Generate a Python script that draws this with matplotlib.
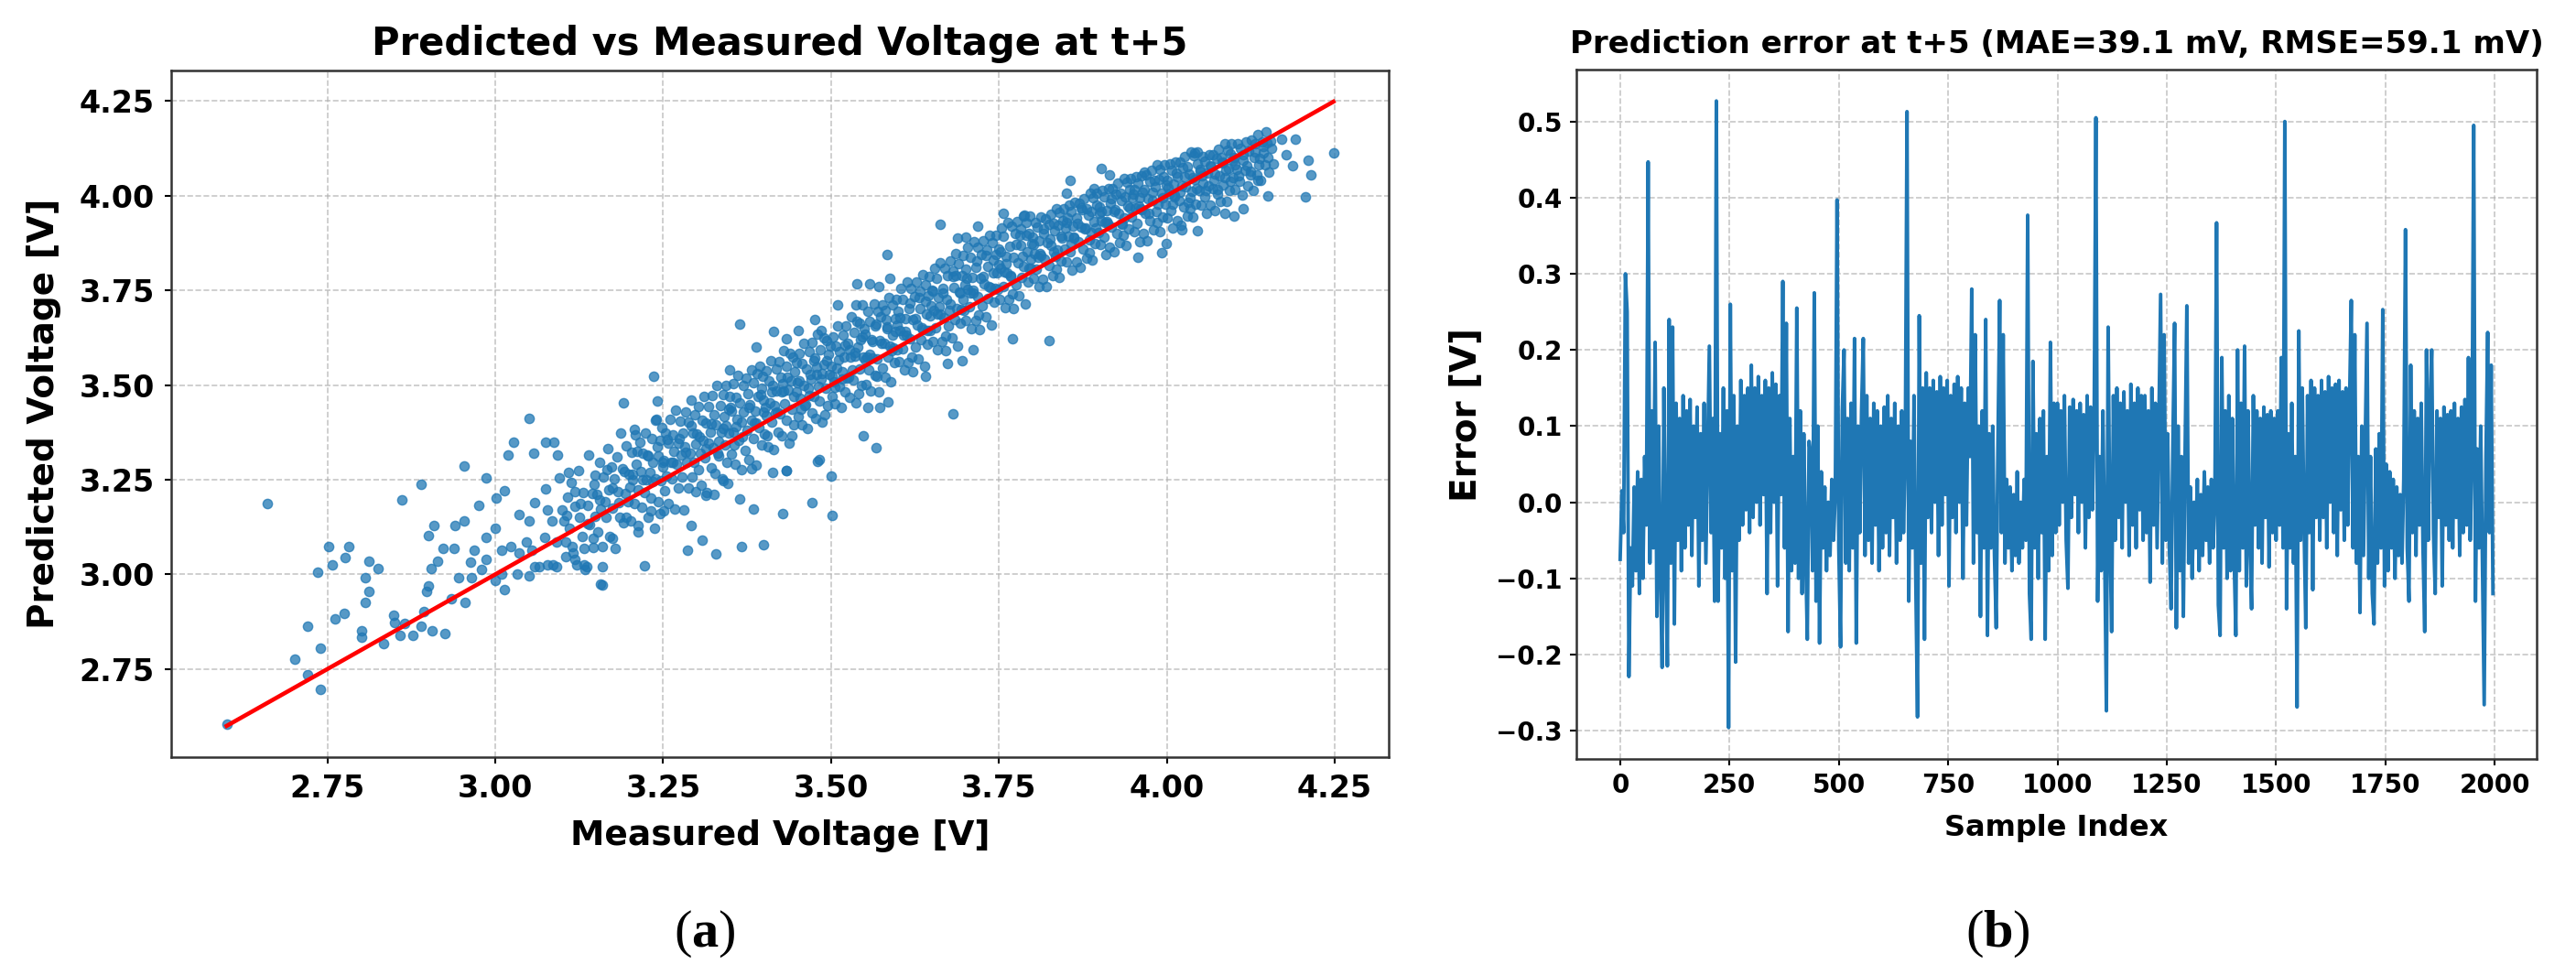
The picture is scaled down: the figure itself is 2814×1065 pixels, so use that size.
import numpy as np
import matplotlib
matplotlib.use('Agg')
import matplotlib.pyplot as plt
from matplotlib.ticker import MultipleLocator

# scatter data: (measured voltage in mV, predicted - measured in mV)
# sparse low-voltage tail, read point by point
tail_pts = [
    (2600, 5), (2661, 526), (2701, 75), (2720, 142), (2721, 13), (2739, 67), (2739, -42),
    (2736, 270), (2752, 322), (2758, 268), (2777, 267), (2782, 292), (2761, 121), (2775, 122),
    (2806, 186), (2812, 223), (2825, 190), (2812, 142), (2806, 121), (2801, 50), (2801, 34),
    (2833, -15), (2849, 42), (2850, 22), (2858, -19), (2865, 6), (2877, -38), (2890, -27),
    (2893, 10), (2906, -55), (2925, -80), (2898, 56), (2900, 69), (2861, 335), (2889, 350),
    (2900, 202), (2908, 222), (2905, 110), (2914, 122), (2922, 147), (2938, 131), (2940, 190),
    (2954, 187), (2954, 333), (2946, 46), (2934, 2), (2955, -28), (2963, 69), (2968, 96),
    (2965, 27), (2980, 32), (2986, 53), (2986, 112), (2976, 207), (2986, 268), (3000, 121),
    (3002, 200), (3014, 206), (3019, 297), (3027, 321), (3050, 361), (3057, 264), (3075, 273),
    (3087, 261), (3093, 223), (3014, -54), (3000, -16), (3009, -9), (3032, -30), (3050, -54),
    (3066, -46), (3091, -71), (3136, -116), (3159, -186), (3159, -139), (3009, 55), (3023, 50),
    (3036, 20), (3046, 39), (3055, 9), (3036, 121), (3050, 91), (3059, 131), (3075, 151),
    (3078, 91), (3085, 56), (3096, 158), (3100, 69), (3109, 161), (3073, 24), (3091, -6),
    (3114, -41), (3132, -63), (3105, -57),
]

# main band
band_pts = [
    (3102, 40), (3105, -20), (3108, 95), (3111, 10), (3113, 130), (3116, -60), (3119, 60),
    (3121, -95), (3124, 150), (3126, 25), (3129, -30), (3131, 85), (3134, -120), (3137, 45),
    (3139, 175), (3141, -10), (3144, 70), (3146, -50), (3148, 115), (3149, 5),
    (3151, 60), (3153, -40), (3155, 140), (3157, 15), (3159, -85), (3161, 95), (3163, 30),
    (3165, -15), (3167, 165), (3169, 55), (3171, -70), (3173, 110), (3175, 0), (3177, 75),
    (3179, -110), (3181, 130), (3183, 35), (3185, -35), (3187, 185), (3189, 90), (3191, -55),
    (3193, 20), (3195, 145), (3197, -5), (3199, 65),
    (3200, 30), (3202, -60), (3203, 120), (3205, 45), (3207, -20), (3208, 160), (3210, 80),
    (3212, -100), (3213, 10), (3215, 135), (3217, 55), (3218, -40), (3220, 100), (3222, -5),
    (3223, 150), (3225, 25), (3227, -75), (3228, 85), (3230, 40), (3232, -30), (3233, 125),
    (3235, 60), (3237, -115), (3238, 15), (3240, 170), (3242, 70), (3243, -50), (3245, 110),
    (3247, 0), (3248, 140), (3249, 35), (3246, -85),
    (3251, 50), (3252, -30), (3254, 120), (3255, 5), (3257, 90), (3258, -70), (3260, 150),
    (3261, 35), (3263, -10), (3264, 105), (3266, 60), (3267, -95), (3269, 165), (3270, 20),
    (3272, 75), (3273, -45), (3275, 130), (3276, 40), (3278, -20), (3279, 95), (3281, -110),
    (3282, 55), (3284, 145), (3285, 10), (3287, -60), (3288, 115), (3290, 30), (3291, 170),
    (3293, -35), (3294, 80), (3296, 0), (3297, 125), (3299, 45), (3298, -80),
    (3300, 70), (3302, -25), (3303, 140), (3305, 15), (3306, -70), (3308, 100), (3309, 45),
    (3311, 160), (3312, -5), (3314, 85), (3315, -100), (3317, 30), (3318, 125), (3320, 55),
    (3321, -40), (3323, 150), (3324, 10), (3326, 95), (3327, -60), (3329, 65), (3330, 170),
    (3332, 20), (3333, -20), (3335, 110), (3336, 40), (3338, -85), (3339, 135), (3341, 75),
    (3342, 0), (3344, 155), (3345, -50), (3347, 90), (3348, 25), (3349, 120), (3346, -105),
    (3343, 50),
    (3351, 80), (3352, -35), (3354, 150), (3355, 20), (3357, -65), (3358, 110), (3360, 50),
    (3361, 165), (3363, -10), (3364, 90), (3366, -90), (3367, 35), (3369, 130), (3370, 60),
    (3372, -45), (3373, 145), (3375, 5), (3376, 100), (3378, -75), (3379, 70), (3381, 160),
    (3382, 25), (3384, -25), (3385, 120), (3387, 45), (3388, -100), (3390, 140), (3391, 80),
    (3393, -5), (3394, 155), (3396, -55), (3397, 95), (3399, 30), (3398, 125), (3356, -15),
    (3389, 10),
    (3400, 60), (3401, -30), (3403, 135), (3404, 15), (3406, -70), (3407, 105), (3409, 45),
    (3410, 155), (3412, -10), (3413, 85), (3415, -85), (3416, 30), (3418, 125), (3419, 65),
    (3421, -45), (3422, 140), (3424, 0), (3425, 95), (3427, -60), (3428, 75), (3430, 160),
    (3431, 20), (3433, -25), (3434, 115), (3436, 50), (3437, -90), (3439, 145), (3440, 70),
    (3442, -5), (3443, 130), (3445, -50), (3446, 90), (3448, 35), (3449, 110), (3405, -40),
    (3417, 10), (3429, 55), (3441, -75),
    (3450, 55), (3451, -35), (3453, 130), (3454, 10), (3456, -60), (3457, 100), (3459, 40),
    (3460, 150), (3462, -15), (3463, 80), (3465, -80), (3466, 25), (3468, 120), (3469, 60),
    (3471, -45), (3472, 140), (3474, -5), (3475, 90), (3477, -65), (3478, 70), (3480, 155),
    (3481, 15), (3483, -25), (3484, 110), (3486, 45), (3487, -85), (3489, 135), (3490, 65),
    (3492, 0), (3493, 125), (3495, -50), (3496, 85), (3498, 30), (3499, 105), (3455, -20),
    (3467, 5), (3479, 50), (3491, -70),
    (3500, 50), (3501, -30), (3503, 125), (3504, 5), (3506, -55), (3507, 95), (3509, 35),
    (3510, 145), (3512, -15), (3513, 75), (3515, -75), (3516, 20), (3518, 115), (3519, 55),
    (3521, -40), (3522, 135), (3524, -5), (3525, 85), (3527, -60), (3528, 65), (3530, 150),
    (3531, 10), (3533, -20), (3534, 105), (3536, 40), (3537, -85), (3539, 130), (3540, 60),
    (3542, 0), (3543, 120), (3545, -45), (3546, 80), (3548, 25), (3549, 100), (3505, -10),
    (3517, 0), (3529, 45), (3541, -65),
    (3550, 85), (3552, -50), (3553, 20), (3555, 140), (3556, -15), (3558, 110), (3559, -75),
    (3561, 55), (3562, 10), (3564, 150), (3565, -40), (3567, 95), (3568, 0), (3570, 125),
    (3571, -90), (3573, 45), (3574, 105), (3576, -30), (3577, 135), (3579, 30), (3580, -60),
    (3582, 90), (3583, 65), (3585, -10), (3586, 145), (3588, 15), (3589, -80), (3591, 120),
    (3592, 40), (3594, -35), (3595, 80), (3597, 130), (3598, -5), (3599, 60), (3557, 25),
    (3569, -45), (3581, 115), (3593, 5),
    (3600, 95), (3601, -40), (3603, 40), (3604, 150), (3606, -10), (3607, 120), (3609, -70),
    (3610, 65), (3612, 20), (3613, 160), (3615, -55), (3616, 85), (3618, 5), (3619, 135),
    (3621, -85), (3622, 50), (3624, 110), (3625, -25), (3627, 145), (3628, 30), (3630, -60),
    (3631, 100), (3633, 70), (3634, -15), (3636, 155), (3637, 10), (3639, -90), (3640, 125),
    (3642, 45), (3643, -35), (3645, 90), (3646, 140), (3648, -5), (3649, 60), (3608, 25),
    (3620, -45), (3632, 115), (3644, 0),
    (3650, 100), (3651, -35), (3653, 45), (3654, 155), (3656, -5), (3657, 125), (3659, -65),
    (3660, 70), (3662, 25), (3663, 160), (3665, -50), (3666, 90), (3668, 10), (3669, 140),
    (3671, -80), (3672, 55), (3674, 115), (3675, -20), (3677, 150), (3678, 35), (3680, -55),
    (3681, 105), (3683, 75), (3684, -10), (3686, 160), (3687, 15), (3689, -85), (3690, 130),
    (3692, 50), (3693, -30), (3695, 95), (3696, 145), (3698, 0), (3699, 65), (3658, 30),
    (3670, -40), (3682, 120), (3694, 5),
    (3700, 105), (3701, -30), (3703, 50), (3704, 160), (3706, 0), (3707, 130), (3709, -60),
    (3710, 75), (3712, 30), (3713, 165), (3715, -45), (3716, 95), (3718, 15), (3719, 145),
    (3721, -75), (3722, 60), (3724, 120), (3725, -15), (3727, 155), (3728, 40), (3730, -50),
    (3731, 110), (3733, 80), (3734, -5), (3736, 160), (3737, 20), (3739, -80), (3740, 135),
    (3742, 55), (3743, -25), (3745, 100), (3746, 150), (3748, 5), (3749, 70), (3708, 35),
    (3720, -35), (3732, 125), (3744, 10),
    (3750, 110), (3751, -25), (3753, 55), (3754, 160), (3756, 5), (3757, 135), (3759, -55),
    (3760, 80), (3762, 35), (3763, 165), (3765, -40), (3766, 100), (3768, 20), (3769, 150),
    (3771, -70), (3772, 65), (3774, 125), (3775, -10), (3777, 155), (3778, 45), (3780, -45),
    (3781, 115), (3783, 85), (3784, 0), (3786, 160), (3787, 25), (3789, -75), (3790, 140),
    (3792, 60), (3793, -20), (3795, 105), (3796, 150), (3798, 10), (3799, 75), (3758, 40),
    (3770, -30), (3782, 130), (3794, 15),
    (3800, 90), (3801, -20), (3803, 45), (3804, 125), (3806, 0), (3807, 110), (3809, -50),
    (3810, 70), (3812, 30), (3813, 130), (3815, -35), (3816, 85), (3818, 15), (3819, 120),
    (3821, -60), (3822, 55), (3824, 100), (3825, -10), (3827, 125), (3828, 40), (3830, -40),
    (3831, 95), (3833, 75), (3834, 5), (3836, 130), (3837, 20), (3839, -55), (3840, 115),
    (3842, 50), (3843, -15), (3845, 90), (3846, 120), (3848, 10), (3849, 65), (3811, 35),
    (3835, -30),
    (3850, 80), (3851, -25), (3853, 40), (3854, 120), (3856, -5), (3857, 100), (3859, -55),
    (3860, 60), (3862, 25), (3863, 120), (3865, -40), (3866, 75), (3868, 10), (3869, 110),
    (3871, -60), (3872, 45), (3874, 90), (3875, -15), (3877, 115), (3878, 35), (3880, -45),
    (3881, 85), (3883, 65), (3884, 0), (3886, 120), (3887, 15), (3889, -60), (3890, 105),
    (3892, 40), (3893, -20), (3895, 80), (3896, 110), (3898, 5), (3899, 55), (3861, 30),
    (3885, -35),
    (3900, 70), (3901, -30), (3903, 30), (3904, 110), (3906, -15), (3907, 90), (3909, -65),
    (3910, 50), (3912, 15), (3913, 105), (3915, -50), (3916, 65), (3918, 0), (3919, 100),
    (3921, -70), (3922, 35), (3924, 80), (3925, -25), (3927, 105), (3928, 25), (3930, -55),
    (3931, 75), (3933, 55), (3934, -10), (3936, 110), (3937, 5), (3939, -70), (3940, 95),
    (3942, 30), (3943, -30), (3945, 70), (3946, 100), (3948, -5), (3949, 45), (3911, 20),
    (3935, -40),
    (3950, 55), (3951, -45), (3953, 15), (3954, 95), (3956, -30), (3957, 75), (3959, -80),
    (3960, 35), (3962, 0), (3963, 90), (3965, -65), (3966, 50), (3968, -15), (3969, 85),
    (3971, -90), (3972, 20), (3974, 65), (3975, -40), (3977, 90), (3978, 10), (3980, -70),
    (3981, 60), (3983, 40), (3984, -25), (3986, 95), (3987, -10), (3989, -85), (3990, 80),
    (3992, 15), (3993, -50), (3995, 55), (3996, 85), (3998, -20), (3999, 30), (3961, 5),
    (3985, -55),
    (4000, 40), (4001, -60), (4003, 0), (4004, 80), (4006, -45), (4007, 60), (4009, -95),
    (4010, 20), (4012, -15), (4013, 75), (4015, -80), (4016, 35), (4018, -30), (4019, 70),
    (4021, -100), (4022, 5), (4024, 50), (4025, -55), (4027, 75), (4028, -5), (4030, -85),
    (4031, 45), (4033, 25), (4034, -40), (4036, 80), (4037, -25), (4039, -95), (4040, 65),
    (4042, 0), (4043, -65), (4045, 40), (4046, 70), (4048, -35), (4049, 15), (4011, -10),
    (4035, -70),
    (4050, 20), (4051, -75), (4053, -20), (4054, 50), (4056, -60), (4057, 35), (4059, -105),
    (4060, 0), (4062, -35), (4063, 45), (4065, -90), (4066, 10), (4068, -50), (4069, 40),
    (4071, -110), (4072, -15), (4074, 25), (4075, -70), (4077, 45), (4078, -25), (4080, -95),
    (4081, 20), (4083, 5), (4084, -55), (4086, 50), (4087, -40), (4089, -105), (4090, 30),
    (4092, -20), (4093, -80), (4095, 15), (4096, 40), (4098, -50), (4099, -5),
    (4100, 0), (4102, -85), (4104, -35), (4106, 30), (4108, -70), (4110, 15), (4112, -110),
    (4114, -20), (4116, -50), (4118, 25), (4120, -95), (4122, -5), (4124, -60), (4126, 20),
    (4128, -115), (4130, -30), (4132, 5), (4134, -80), (4136, 25), (4138, -40), (4140, -100),
    (4142, 0), (4144, -15), (4146, -65), (4148, 20), (4150, -50), (4152, -90), (4154, -10),
    (4156, -30), (4158, -75),
]

# extra points in the solid core of the band
core_pts = [
    (3106, 50), (3118, 100), (3127, 60), (3138, -5), (3147, 90), (3156, 40), (3166, 110),
    (3174, 55), (3184, 5), (3192, 80), (3204, 60), (3211, 115), (3219, 30), (3226, 90),
    (3234, 10), (3241, 95), (3250, 45), (3256, 100), (3265, 30), (3274, 85), (3283, 40),
    (3292, 100),
    (3304, 60), (3313, 20), (3322, 75), (3331, -10), (3340, 45), (3350, 90), (3359, 30),
    (3368, -5), (3377, 65), (3386, 15), (3395, 80),
    (3402, 40), (3411, 70), (3420, 10), (3426, 55), (3435, 85), (3444, 25), (3452, 60),
    (3461, -15), (3470, 45), (3476, 95), (3485, 30), (3494, 70),
    (3502, 20), (3511, 55), (3520, 85), (3526, -5), (3535, 50), (3544, 75), (3551, 15),
    (3560, 60), (3566, 90), (3575, 35), (3584, 70), (3590, 0), (3596, 45),
    (3602, 75), (3611, 30), (3617, 100), (3626, 50), (3635, 15), (3641, 80), (3647, 35),
    (3652, 95), (3661, 45), (3667, 75), (3676, 20), (3685, 105), (3691, 55), (3697, 30),
    (3702, 80), (3711, 40), (3717, 110), (3726, 60), (3735, 25), (3741, 90), (3747, 50),
    (3752, 100), (3761, 60), (3767, 20), (3776, 95), (3785, 55), (3791, 105), (3797, 35),
    (3802, 70), (3808, 30), (3817, 95), (3826, 60), (3832, 20), (3838, 85), (3844, 45),
    (3852, 90), (3858, 15), (3867, 60), (3873, 95), (3879, 35), (3888, 70), (3894, 20),
    (3902, 55), (3908, 20), (3917, 75), (3923, 40), (3932, -5), (3938, 60), (3944, 25),
    (3952, 65), (3958, 15), (3964, 45), (3973, -20), (3979, 30), (3988, 55), (3994, 0),
    (4002, 20), (4008, -30), (4014, 45), (4020, -10), (4026, 25), (4032, -50), (4038, 10),
    (4044, -25), (4052, 0), (4058, -45), (4064, 15), (4070, -30), (4076, -60), (4082, 5),
    (4088, -20), (4094, -55),
    (4101, -20), (4107, -55), (4113, -5), (4119, -40), (4125, -70), (4131, -15), (4137, -55),
    (4143, -30), (4149, -10),
]

# isolated points around the band
outlier_pts = [
    (3663, 261), (3584, 261), (3364, 297), (3236, 287), (3191, 262), (3241, 217), (3239, 168),
    (3207, 176), (3388, 213), (3349, 191), (3415, 226), (3433, 188), (3451, 192), (3476, 196),
    (3485, 160), (3510, 201), (3537, 174), (3546, 165), (3539, 229), (3557, 211), (3571, 189),
    (3587, 194), (3718, 201), (3689, 198), (3700, 191), (3756, 197), (3788, 160),
    (3770, -149), (3682, -257), (3641, -117), (3673, -117), (3695, -130), (3711, -118),
    (3585, -129), (3573, -133), (3555, -115), (3548, -181), (3567, -232), (3500, -240),
    (3483, -181), (3433, -159), (3413, -143), (3381, -103), (3313, -103), (3825, -208),
    (3501, -345), (3471, -281), (3428, -267), (3400, -321), (3366, -292), (3329, -274),
    (3286, -222), (3308, -218), (3292, -163), (3222, -199), (3157, -182), (3434, -160),
    (3480, -182), (3384, -211), (3364, -165), (3326, -115), (3339, -91), (3251, -83),
    (3232, -64), (3212, -83), (3195, -45), (3175, -80), (3146, -76), (3132, -107),
    (3118, -78), (3086, -61), (3077, -52), (3058, -38),
    (3902, 170), (3914, 142), (3856, 185), (3850, 157), (3891, 128), (3967, 94), (4042, 70),
    (3957, -120), (3992, -142), (3999, -126), (4022, -112), (4045, -138), (4191, -42),
    (4210, -116), (4214, -158), (4207, -210), (4248, -134), (4150, -150), (4136, -95),
    (4113, -148), (4100, -154), (4086, -132), (4187, -107), (4171, -22), (4178, -70),
]

# prediction error in mV, one value every 4th sample
err_mv = [
    -75, 15, -40, 300, 250, -229, -60, -110, 20, -90, 40, -120, 30, -100, 60, -30, 447, -80, 120, -60, 210, -150, 100, -90, -217,
    150, -70, -215, 240, -80, 230, -160, 130, -50, 110, -90, 140, -60, 120, -30, 135, -70, 100, -20, 125, -110, 90, -50, 130, -80,
    60, 205, -40, 110, -130, 527, -130, 90, -60, 150, -100, 120, -296, 260, -90, 140, -210, 100, -50, 160, -30, 140, -10, 150, -40,
    180, -20, 150, 0, 165, -30, 140, 10, 160, -120, 150, -40, 170, 0, 155, -110, 140, 10, 290, -60, 235, -170, 110, -90, 60,
    -80, 255, -100, 120, -120, 90, -60, -180, 80, 60, -90, 275, -130, 100, -185, 40, -60, 20, -90, 0, -70, 30, -50, 10, 397,
    -60, -190, 120, 200, -80, 110, -90, 130, -60, 215, -185, 100, -40, 120, 215, -70, 140, -50, 110, -80, 130, -30, 120, -90, 100,
    -60, 125, -40, 140, -70, 110, -20, 130, -80, 100, -50, 120, -40, 60, 513, -130, 80, -60, 140, -100, -282, 245, -80, 150, -180,
    170, -20, 150, -40, 160, 0, 145, -70, 165, -30, 150, 10, 160, -110, 140, -20, 155, -40, 165, 0, 150, -100, 130, -30, 150,
    60, 280, -80, 220, -40, 100, -150, 120, -60, 240, -175, 90, -60, 100, -70, -165, 80, 265, -40, 220, -80, 30, -60, 20, -90,
    10, -70, 40, -80, 0, -60, 30, -50, 377, -120, -180, 185, -60, 90, -100, 110, -40, 120, -180, 60, -90, 210, -70, 130, -40,
    130, -30, 120, 0, 140, -50, -113, 125, -20, 135, 10, 120, -40, 130, 0, 115, -60, 140, -20, 125, -10, 110, 505, -130, 60,
    -90, 120, -60, -274, 230, -40, -170, 140, -50, 150, -20, 130, -60, 145, 0, 120, -70, 155, -30, 130, -60, 150, -10, 140, -50,
    140, -40, 120, -105, 150, -30, 130, -60, 110, 273, -80, 220, -50, 90, -60, -140, 80, 235, -165, 100, -90, 60, -150, 70, 258,
    -80, 20, -100, 0, -60, 30, -90, 10, -70, 40, -50, 20, -80, 30, -60, 0, 367, -135, -175, 190, -60, 120, -100, 140, -90,
    110, -70, -175, 200, -90, 130, -60, 205, -110, 120, -50, -140, 140, -30, 120, -60, 110, -80, 125, -20, 115, -85, 120, -40, 110,
    -50, 120, -30, 190, -60, 500, -140, 90, -60, 130, -80, 60, -269, 225, -50, 150, -30, -165, 140, -40, 160, -115, 150, -20, 140,
    -50, 160, -20, 145, -60, 165, 0, 150, -40, 155, -70, 160, -10, 145, -50, 150, -30, 130, 265, -60, 220, -80, 60, -145, 100,
    -70, 80, 235, -100, 60, -120, -160, 70, -80, 90, -60, 253, -110, 50, -90, 40, -60, 30, -100, 20, -70, 10, -80, 30, 358,
    -60, -130, 180, -40, 120, -70, 110, -30, 130, -60, -170, 200, -50, 130, 200, -40, -120, 120, -20, 110, -110, 125, -30, 115, -50,
    120, -60, 130, -20, 110, -70, 125, -40, 135, -30, 190, -50, 60, 495, -130, 70, -60, 100, -80, -266, 60, 223, -40, 180, -120,
]
sample_step = 4

plt.rcParams['font.family'] = 'DejaVu Sans'
plt.rcParams['font.weight'] = 'bold'
plt.rcParams['axes.titleweight'] = 'bold'
plt.rcParams['axes.labelweight'] = 'bold'
plt.rcParams['mathtext.fontset'] = 'custom'
plt.rcParams['mathtext.rm'] = 'Liberation Serif:normal'
plt.rcParams['mathtext.bf'] = 'Liberation Serif:bold'

pts = np.array(tail_pts + band_pts + core_pts + outlier_pts, dtype=float)
meas_v = pts[:, 0] / 1000.0
pred_v = (pts[:, 0] + pts[:, 1]) / 1000.0

err_v = np.array(err_mv) / 1000.0
sample_idx = np.arange(len(err_v)) * sample_step

fig = plt.figure(figsize=(28.14, 10.65), dpi=100)
ax1 = fig.add_axes([0.0665, 0.2235, 0.4726, 0.7042])
ax2 = fig.add_axes([0.612, 0.2216, 0.3727, 0.707])


def style_axes(ax):
    ax.set_axisbelow(True)
    ax.grid(True, linestyle='--', color='#b0b0b0', alpha=0.7, linewidth=1.2)
    for sp in ax.spines.values():
        sp.set_linewidth(1.8)
        sp.set_color('#333333')


# (a) predicted vs measured
style_axes(ax1)
ax1.scatter(meas_v, pred_v, s=55, alpha=0.75, color='#1f77b4')
lo = min(meas_v.min(), pred_v.min())
hi = max(meas_v.max(), pred_v.max())
ax1.plot([lo, hi], [lo, hi], color='red', linewidth=3.3)
ax1.set_title('Predicted vs Measured Voltage at t+5', fontsize=30, pad=12)
ax1.set_xlabel('Measured Voltage [V]', fontsize=27, labelpad=12)
ax1.set_ylabel('Predicted Voltage [V]', fontsize=28, labelpad=14)
ax1.tick_params(labelsize=24, length=5, width=1.5, pad=8)

# (b) error over samples
style_axes(ax2)
ax2.plot(sample_idx, err_v, color='#1f77b4', linewidth=2.8)
ax2.yaxis.set_major_locator(MultipleLocator(0.1))
ax2.set_title('Prediction error at t+5 (MAE=39.1 mV, RMSE=59.1 mV)', fontsize=24.5, pad=13)
ax2.set_xlabel('Sample Index', fontsize=23, labelpad=12)
ax2.set_ylabel('Error [V]', fontsize=28, labelpad=10)
ax2.tick_params(labelsize=20, length=5, width=1.5, pad=6)

fig.text(770 / 2814, 1 - 1019 / 1065, r'$\mathrm{(}\mathbf{a}\mathrm{)}$',
         ha='center', va='center', fontsize=42)
fig.text(2182 / 2814, 1 - 1019 / 1065, r'$\mathrm{(}\mathbf{b}\mathrm{)}$',
         ha='center', va='center', fontsize=42)

fig.savefig('out.png', dpi=100)
